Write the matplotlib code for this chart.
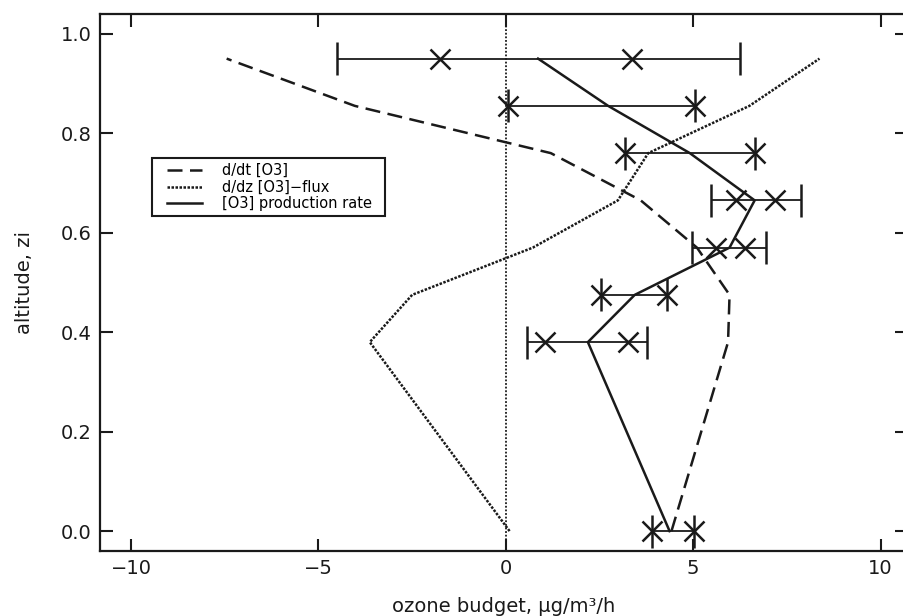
#!/usr/bin/env python

import matplotlib
matplotlib.use('Agg')
import matplotlib.pyplot as plt
from matplotlib.patches import Rectangle

FONT_SIZE   = 14
LEGEND_SIZE = 10.5
INK         = '#1a1a1a'

# altitude levels (fraction of mixing height) of the budget terms
altitude = [0.0, 0.38, 0.475, 0.57, 0.665, 0.76, 0.855, 0.95]

# budget terms, ug/m3/h
dt_o3      = [4.42, 5.93, 5.97, 5.1, 3.6, 1.2, -4.03, -7.45]
dz_flux    = [0.1, -3.63, -2.5, 0.72, 2.99, 3.8, 6.5, 8.37]
production = [4.37, 2.19, 3.44, 5.97, 6.64, 4.91, 2.73, 0.86]

# independent production estimates: two markers per level and the range ends
est_alt    = [0.0, 0.38, 0.475, 0.57, 0.665, 0.76, 0.855, 0.95]
est_low    = [3.89, 1.04, 2.55, 5.62, 6.15, 3.17, 0.06, -1.76]
est_high   = [5.01, 3.26, 4.29, 6.37, 7.17, 6.64, 5.04, 3.36]
range_low  = [3.89, 0.57, 2.55, 4.98, 5.48, 3.17, 0.06, -4.51]
range_high = [5.01, 3.78, 4.29, 6.95, 7.88, 6.64, 5.04, 6.24]

x_ticks = [-10, -5, 0, 5, 10]
y_ticks = [0.0, 0.2, 0.4, 0.6, 0.8, 1.0]

plt.rcParams['font.family'] = ['DejaVu Sans']

figure = plt.figure(figsize=(9.04, 6.16), dpi=100)
ax = figure.add_axes([0.1106, 0.1055, 0.8925, 0.872])

# zero reference line
ax.axvline(0, color=INK, lw=1.3, ls=(0, (1, 1)), zorder=1)

ax.plot(dt_o3, altitude, color=INK, lw=1.8, ls=(0, (6, 3)), label='d/dt [O3]')
ax.plot(dz_flux, altitude, color=INK, lw=1.8, ls=(0, (1, 0.6)), label='d/dz [O3]\u2212flux')
ax.plot(production, altitude, color=INK, lw=1.8, label='[O3] production rate')

# estimate ranges with end caps and markers
ax.hlines(est_alt, range_low, range_high, color=INK, lw=1.3)
cap = 0.033
ax.vlines(range_low, [a - cap for a in est_alt], [a + cap for a in est_alt], color=INK, lw=1.8)
ax.vlines(range_high, [a - cap for a in est_alt], [a + cap for a in est_alt], color=INK, lw=1.8)
ax.plot(est_low, est_alt, ls='none', marker='x', ms=14, mew=1.8, color=INK)
ax.plot(est_high, est_alt, ls='none', marker='x', ms=14, mew=1.8, color=INK)

ax.set_xlim(-10.83, 10.7)
ax.set_ylim(-0.04, 1.04)
ax.set_xticks(x_ticks)
ax.set_yticks(y_ticks)
ax.set_xticklabels(['\u221210', '\u22125', '0', '5', '10'])
ax.set_yticklabels(['%.1f' % v for v in y_ticks])
ax.tick_params(direction='in', top=True, right=True, length=9, width=1.5,
               labelsize=FONT_SIZE, pad=6, colors=INK)
for spine in ax.spines.values():
    spine.set_linewidth(1.6)
    spine.set_color(INK)

ax.set_xlabel('ozone budget, \u00b5g/m\u00b3/h', fontsize=FONT_SIZE, labelpad=13.5, color=INK)
ax.set_ylabel('altitude, zi', fontsize=FONT_SIZE, labelpad=19, color=INK)

# legend entries without frame, boxed by a plain rectangle
legend = ax.legend(loc='upper left', bbox_to_anchor=(0.083, 0.7224), fontsize=LEGEND_SIZE,
                   handlelength=2.4, handletextpad=1.35, labelspacing=0.12,
                   frameon=False, borderpad=0, borderaxespad=0)
ax.add_patch(Rectangle((0.0644, 0.6238), 0.2888, 0.108, transform=ax.transAxes,
                       fill=False, edgecolor=INK, lw=1.5, zorder=5))

figure.savefig('out.png', dpi=100)
plt.close(figure)
